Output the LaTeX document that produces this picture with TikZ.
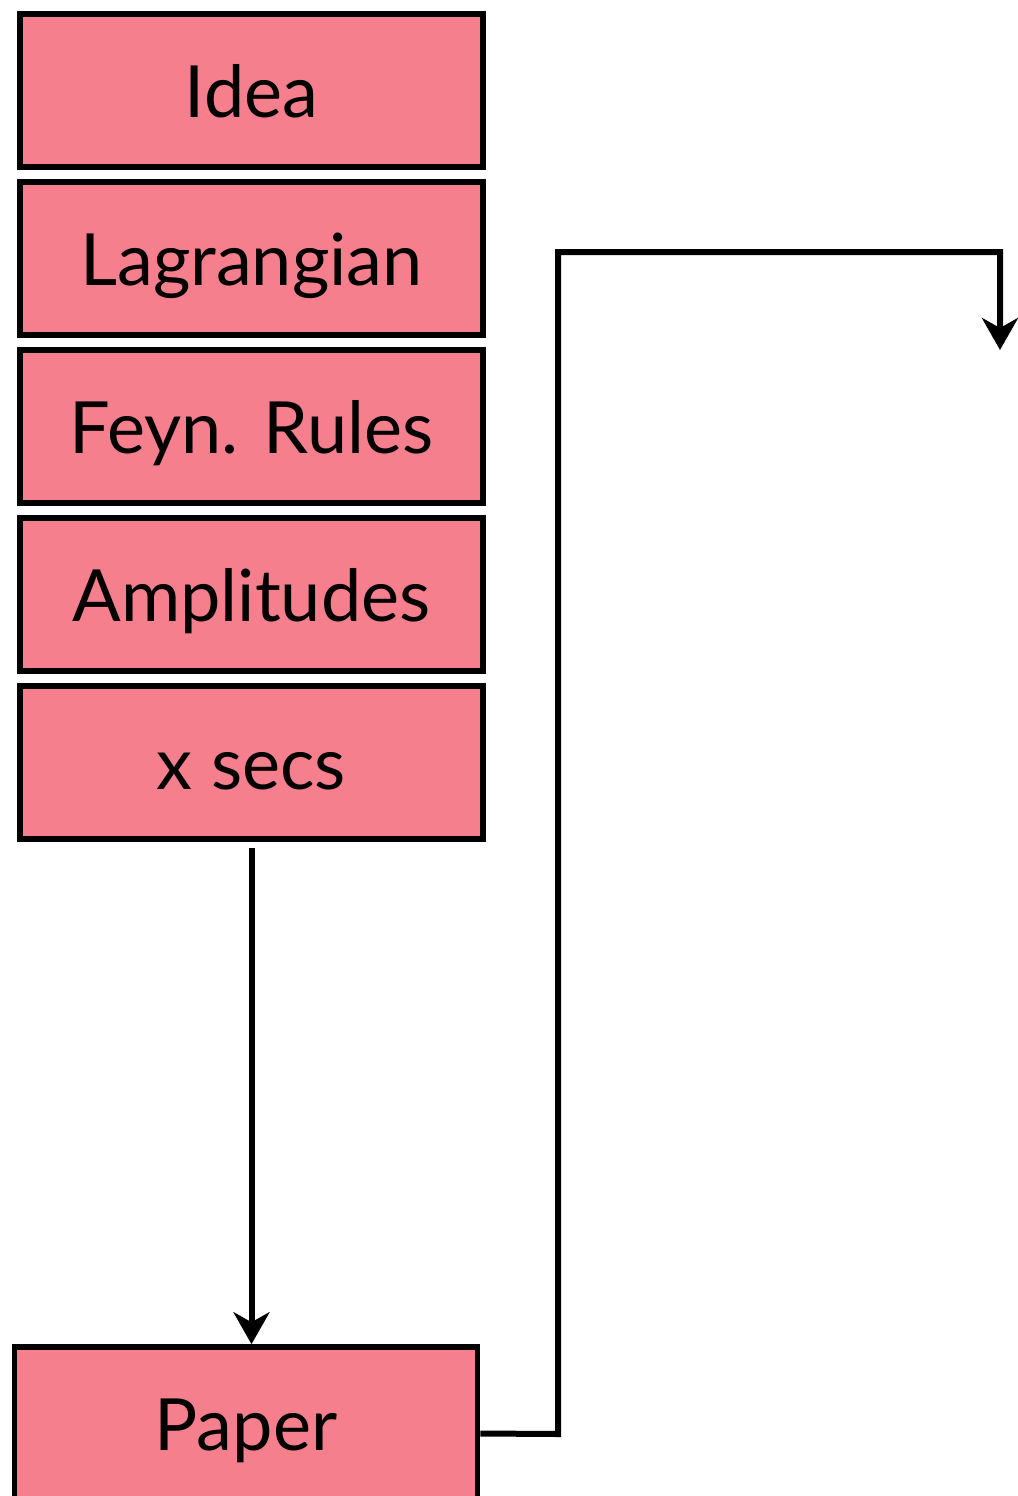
\documentclass[tikz,border=0pt]{standalone}
\usepackage{fontspec}
\setmainfont{Lato}
\usetikzlibrary{arrows.meta}

\definecolor{boxpink}{RGB}{246,127,141}

\begin{document}
\begin{tikzpicture}[x=0.5pt,y=-0.5pt,>={Stealth[length=16pt,width=18pt,inset=5pt]}]
  % 全体の枠
  \useasboundingbox (0,0) rectangle (1018,1496);
  \clip (0,0) rectangle (1018,1496);

  % 箱のスタイル
  \tikzset{stage/.style={draw, line width=2.8pt, fill=boxpink,
      minimum width=231.5pt, minimum height=76.5pt, inner sep=0pt,
      text height=27pt, text depth=0pt,
      font=\fontsize{36}{40}\selectfont}}
  \tikzset{wire/.style={line width=3pt}}

  % 左の列
  \def\bx{251.5}
  \node[stage] (idea) at (\bx,90.5) {Idea};
  \node[stage] (lag)  at (\bx,258.5) {Lagrangian};
  \node[stage] (feyn) at (\bx,426.5) {Feyn. Rules};
  \node[stage] (amp)  at (\bx,594.5) {Amplitudes};
  \node[stage] (xsec) at (\bx,762.5) {x secs};

  % 論文
  \node[stage] (paper) at (246,1423.5) {Paper};

  % 矢印
  \draw[wire,->,shorten <=3pt] (xsec.south) -- (xsec.south |- paper.north);

  % 右へ戻る線
  \coordinate (next) at (1000,350);
  \draw[wire,->] ([yshift=-5pt]paper.east) -- (558,1434) -- (558,252) -- (1000,252) -- (next);
\end{tikzpicture}
\end{document}
